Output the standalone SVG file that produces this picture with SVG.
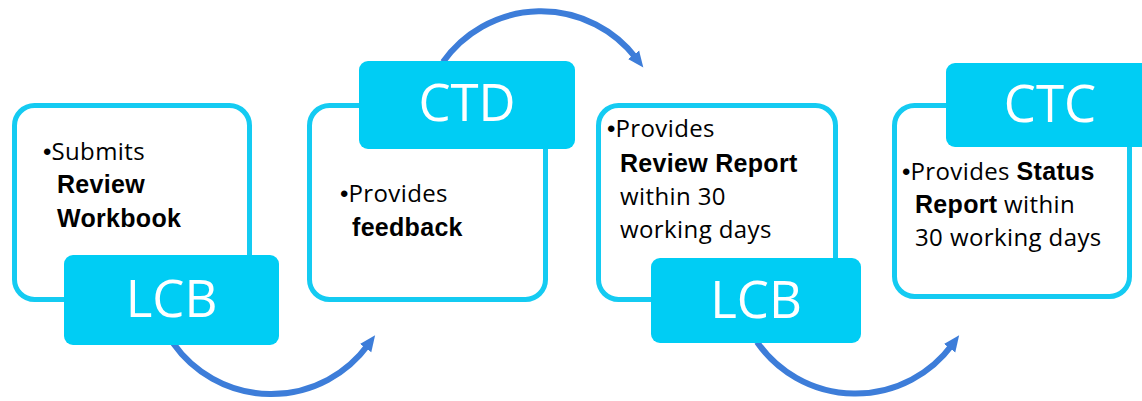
<svg xmlns="http://www.w3.org/2000/svg" width="1142" height="401" viewBox="0 0 1142 401">
<style>
.box{fill:#fff;stroke:#14CBF2;stroke-width:5}
.tag{fill:#00CDF4}
.tagt{font-family:"Open Sans","Noto Sans",sans-serif;font-weight:400;font-size:51px;fill:#fff;text-anchor:middle}
.t{font-family:"Open Sans","Noto Sans",sans-serif;font-size:24px;fill:#000;letter-spacing:0.4px}
.b{font-family:"Liberation Sans",Arial,sans-serif;font-weight:bold;font-size:25px;letter-spacing:0.3px}
.bul{font-family:"Liberation Sans",Arial,sans-serif;font-size:24px;letter-spacing:0}
.arr{fill:none;stroke:#3D7DD9;stroke-width:6}
</style>
<defs>
<marker id="ah" markerUnits="userSpaceOnUse" markerWidth="20" markerHeight="20" viewBox="0 0 20 20" refX="4" refY="10" orient="auto">
<path d="M0,3 L16,10 L0,17 Z" fill="#3D7DD9"/>
</marker>
</defs>
<g id="connectors">
<path class="arr" d="M173,343 A120 120 0 0 0 368,345" marker-end="url(#ah)"/>
<path class="arr" d="M443,62 A120 120 0 0 1 636,58" marker-end="url(#ah)"/>
<path class="arr" d="M757,342 A120 120 0 0 0 952,345" marker-end="url(#ah)"/>
</g>
<g id="node1">
<rect class="box" x="14.5" y="105.5" width="235" height="194" rx="20"/>
<rect class="tag" x="64" y="255" width="215" height="90" rx="9"/>
<text class="tagt" x="171.5" y="317">LCB</text>
<text class="t" x="43" y="160"><tspan class="bul">•</tspan>Submits</text>
<text class="t b" x="57" y="193">Review</text>
<text class="t b" x="57" y="227">Workbook</text>
</g>
<g id="node2">
<rect class="box" x="309.5" y="105.5" width="236" height="194" rx="20"/>
<rect class="tag" x="359" y="61" width="216" height="88" rx="9"/>
<text class="tagt" x="467" y="121">CTD</text>
<text class="t" x="340" y="202"><tspan class="bul">•</tspan>Provides</text>
<text class="t b" x="352" y="236">feedback</text>
</g>
<g id="node3">
<rect class="box" x="598.5" y="105.5" width="237" height="194" rx="20"/>
<rect class="tag" x="651" y="258" width="210" height="85" rx="9"/>
<text class="tagt" x="756" y="318">LCB</text>
<text class="t" x="607" y="137"><tspan class="bul">•</tspan>Provides</text>
<text class="t b" x="620" y="172">Review Report</text>
<text class="t" x="620" y="205">within 30</text>
<text class="t" x="620" y="238">working days</text>
</g>
<g id="node4">
<rect class="box" x="894.5" y="105.5" width="235" height="191" rx="20"/>
<rect class="tag" x="946" y="63" width="216" height="84" rx="9"/>
<text class="tagt" x="1050" y="122">CTC</text>
<text class="t" x="902" y="180"><tspan class="bul">•</tspan>Provides <tspan class="b">Status</tspan></text>
<text class="t" x="915" y="213"><tspan class="b">Report</tspan> within</text>
<text class="t" x="915" y="246">30 working days</text>
</g>
</svg>
